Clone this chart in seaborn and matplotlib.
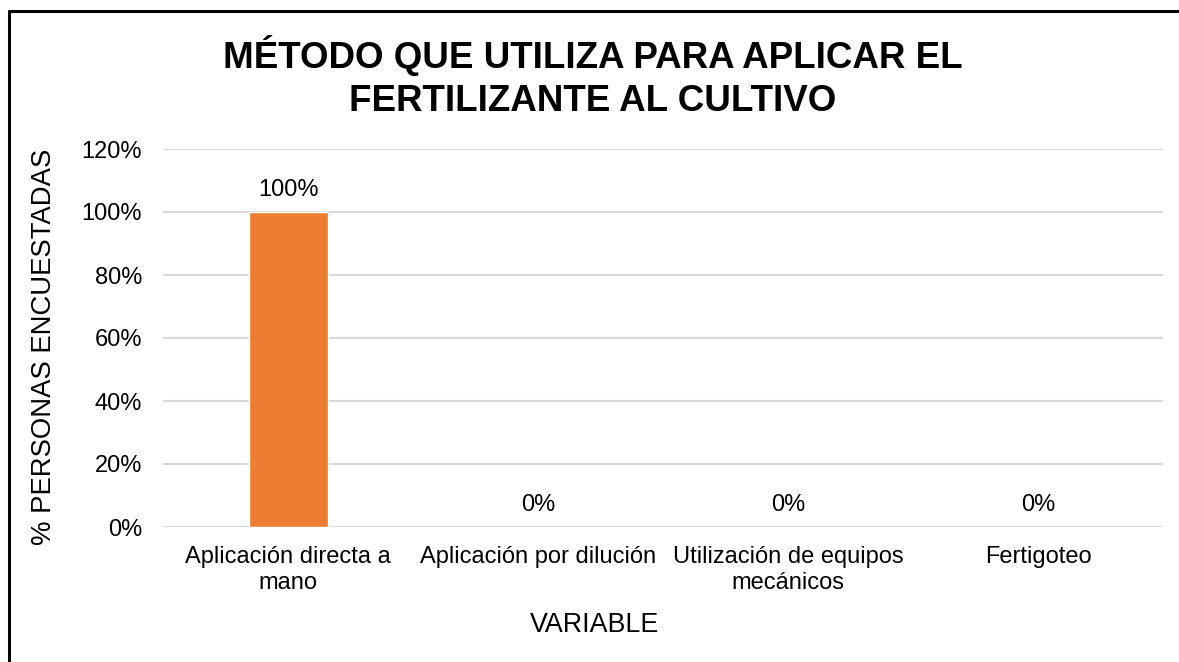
import pandas as pd
import seaborn as sns
import matplotlib.pyplot as plt
from matplotlib.lines import Line2D
from matplotlib.ticker import PercentFormatter

# data
categories = ['Aplicación directa a\nmano', 'Aplicación por dilución',
              'Utilización de equipos\nmecánicos', 'Fertigoteo']
shares = [1.0, 0.0, 0.0, 0.0]
y_ticks = [0.0, 0.2, 0.4, 0.6, 0.8, 1.0, 1.2]

df = pd.DataFrame({'variable': categories, 'share': shares})

sns.set_style('white')
plt.rcParams['font.family'] = ['Liberation Sans', 'DejaVu Sans']
plt.rcParams['text.color'] = 'black'
plt.rcParams['axes.labelcolor'] = 'black'
plt.rcParams['xtick.color'] = 'black'
plt.rcParams['ytick.color'] = 'black'

W, H = 1179, 662
fig = plt.figure(figsize=(W / 100, H / 100), dpi=100)
ax = fig.add_axes([163 / W, 1 - 527 / H, 1000 / W, 378 / H])

sns.barplot(data=df, x='variable', y='share', color='#ED7D31', width=0.316,
            saturation=1, ax=ax, zorder=3)

ax.set_ylim(0, 1.2)
ax.set_yticks(y_ticks)
ax.yaxis.set_major_formatter(PercentFormatter(1.0, decimals=0))
ax.grid(axis='y', color='#d9d9d9', linewidth=1.5, zorder=0)
ax.set_axisbelow(True)
for s in ax.spines.values():
    s.set_visible(False)

ax.tick_params(axis='y', length=0, pad=15, labelsize=17)
ax.tick_params(axis='x', length=0, pad=14, labelsize=17)

ax.bar_label(ax.containers[0], labels=[f'{v:.0%}' for v in shares],
             padding=8, fontsize=17, color='black')

ax.set_xlabel('VARIABLE', fontsize=19.3)
ax.xaxis.label.set_va('center')
ax.xaxis.set_label_coords((595 - 163) / 1000, -(625 - 527) / 378)
ax.set_ylabel('% PERSONAS ENCUESTADAS', fontsize=19.8)
ax.yaxis.label.set_va('center')
ax.yaxis.set_label_coords((44 - 163) / 1000, (527 - 347) / 378)

fig.text(593 / W, 1 - 77 / H, 'MÉTODO QUE UTILIZA PARA APLICAR EL\nFERTILIZANTE AL CULTIVO',
         ha='center', va='center', fontsize=26.5, fontweight='bold', linespacing=1.3,
         color='black')

# outer chart frame: only left and top edges are inside the picture
fx, fy = 9.5 / W, 1 - 11 / H
fig.add_artist(Line2D([fx, fx], [-0.05, fy], color='black', linewidth=2.2,
                      transform=fig.transFigure))
fig.add_artist(Line2D([fx, 1.05], [fy, fy], color='black', linewidth=2.2,
                      transform=fig.transFigure))

fig.savefig('out.png', dpi=100)
